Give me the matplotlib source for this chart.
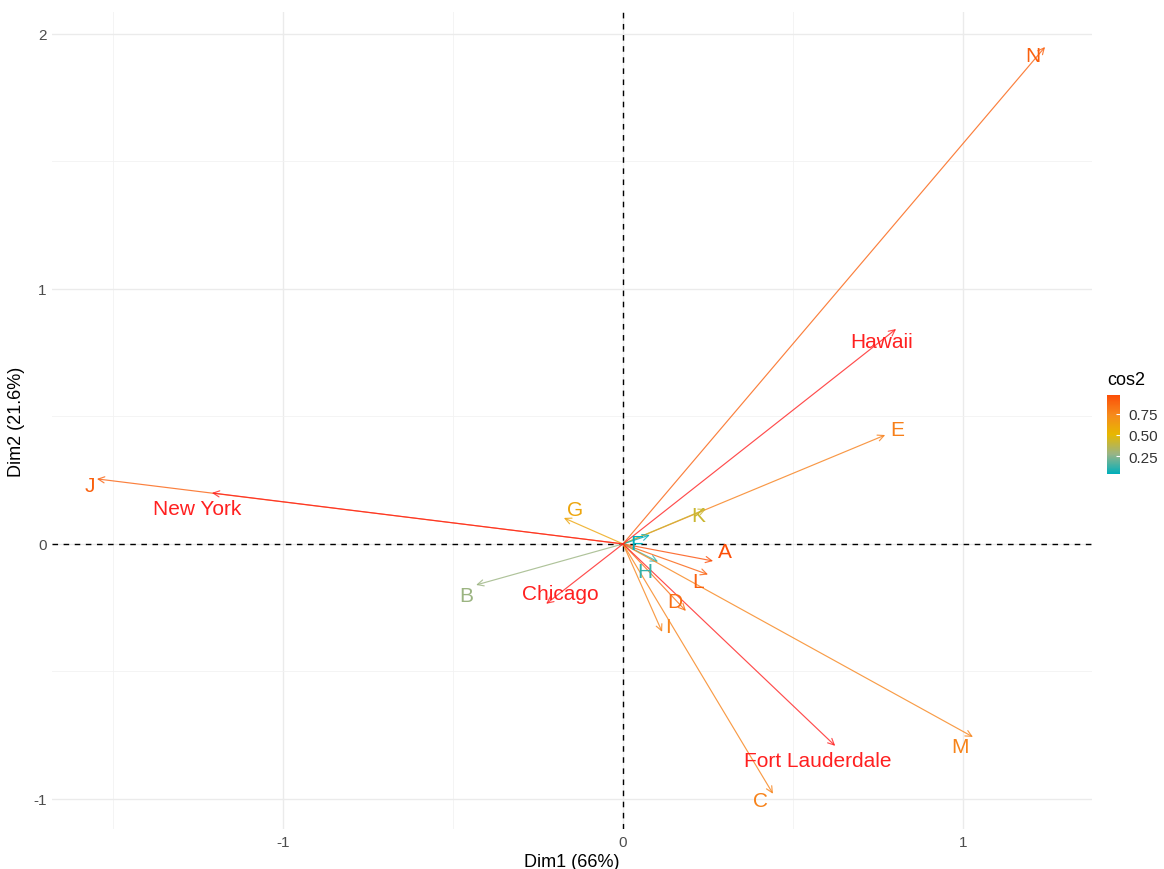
import matplotlib
matplotlib.use("Agg")
import matplotlib.pyplot as plt
from matplotlib.colors import LinearSegmentedColormap, Normalize
from matplotlib.colorbar import ColorbarBase

plt.rcParams["font.family"] = ["Liberation Sans", "DejaVu Sans"]

# active variables: PCA coordinates and cos2
var_names = ["N", "E", "K", "F", "A", "L", "H", "D", "I", "M", "C", "B", "G", "J"]
var_dim1 = [1.241, 0.771, 0.244, 0.079, 0.265, 0.250, 0.103, 0.185, 0.115, 1.029, 0.441, -0.432, -0.174, -1.547]
var_dim2 = [1.949, 0.427, 0.137, 0.035, -0.067, -0.120, -0.070, -0.263, -0.345, -0.757, -0.980, -0.161, 0.102, 0.255]
var_cos2 = [0.90, 0.78, 0.42, 0.04, 0.97, 0.90, 0.12, 0.84, 0.76, 0.76, 0.77, 0.28, 0.60, 0.90]

# supplementary variables
sup_names = ["Hawaii", "New York", "Chicago", "Fort Lauderdale"]
sup_dim1 = [0.803, -1.209, -0.226, 0.624]
sup_dim2 = [0.843, 0.200, -0.235, -0.792]

# label nudges in pixels (dx right, dy up)
var_nudge = {"N": (-12, -9), "E": (12, 6), "K": (-8, -7), "F": (-13, -9), "A": (12, 10),
             "L": (-10, -7), "H": (-13, -10), "D": (-11, 9), "I": (6, 5), "M": (-13, -10),
             "C": (-12, -7), "B": (-10, -11), "G": (11, 8), "J": (-7, -7)}
sup_nudge = {"Hawaii": (-14, -13), "New York": (-15, -16), "Chicago": (14, 10),
             "Fort Lauderdale": (-17, -15)}

# ggplot gradientn interpolates in Lab, so add the muted midpoints
cmap = LinearSegmentedColormap.from_list(
    "cos2", [(0.0, "#00AFBB"), (0.25, "#98B486"), (0.5, "#E7B800"),
             (0.75, "#F68A1C"), (1.0, "#FC4E07")])
norm = Normalize(vmin=min(var_cos2), vmax=max(var_cos2))
sup_color = "#FF2020"

fig = plt.figure(figsize=(11.64, 8.7), dpi=100)
ax = fig.add_axes([52 / 1164, 1 - 830 / 870, 1040 / 1164, 817 / 870])

ax.set_xlim(-1.679, 1.379)
ax.set_ylim(-1.118, 2.086)

# grid like theme_minimal
for v in [-1.5, -0.5, 0.5]:
    ax.axvline(v, color="#F2F2F2", lw=0.6, zorder=0)
for v in [-1, 0, 1]:
    ax.axvline(v, color="#EBEBEB", lw=1.0, zorder=0)
for v in [-0.5, 0.5, 1.5]:
    ax.axhline(v, color="#F2F2F2", lw=0.6, zorder=0)
for v in [-1, 0, 1, 2]:
    ax.axhline(v, color="#EBEBEB", lw=1.0, zorder=0)

ax.axhline(0, color="black", lw=1.0, ls=(0, (4, 4)), zorder=1)
ax.axvline(0, color="black", lw=1.0, ls=(0, (4, 4)), zorder=1)

arrow_style = "->,head_length=0.45,head_width=0.22"

for name, x, y, c2 in zip(var_names, var_dim1, var_dim2, var_cos2):
    col = cmap(norm(c2))
    ax.annotate("", xy=(x, y), xytext=(0, 0),
                arrowprops=dict(arrowstyle=arrow_style, color=col, lw=0.85, alpha=0.8,
                                shrinkA=0, shrinkB=0), zorder=2)
    dx, dy = var_nudge[name]
    ax.annotate(name, xy=(x, y), xytext=(dx, dy), textcoords="offset pixels",
                ha="center", va="center", color=col, fontsize=15, zorder=3)

for name, x, y in zip(sup_names, sup_dim1, sup_dim2):
    ax.annotate("", xy=(x, y), xytext=(0, 0),
                arrowprops=dict(arrowstyle=arrow_style, color=sup_color, lw=0.85, alpha=0.8,
                                shrinkA=0, shrinkB=0), zorder=2)
    dx, dy = sup_nudge[name]
    ax.annotate(name, xy=(x, y), xytext=(dx, dy), textcoords="offset pixels",
                ha="center", va="center", color=sup_color, fontsize=15, zorder=3)

ax.set_xticks([-1, 0, 1])
ax.set_xticklabels(["-1", "0", "1"])
ax.set_yticks([-1, 0, 1, 2])
ax.set_yticklabels(["-1", "0", "1", "2"])
ax.tick_params(length=0, labelsize=11, colors="#4D4D4D", pad=4)
for s in ax.spines.values():
    s.set_visible(False)

ax.set_xlabel("Dim1 (66%)", fontsize=13, color="black", labelpad=3)
ax.set_ylabel("Dim2 (21.6%)", fontsize=13, color="black", labelpad=6)

# colour bar legend
cax = fig.add_axes([1107 / 1164, 1 - 475 / 870, 13 / 1164, 79 / 870])
cb = ColorbarBase(cax, cmap=cmap, norm=norm, orientation="vertical")
cb.set_ticks([0.25, 0.50, 0.75])
cb.set_ticklabels(["0.25", "0.50", "0.75"])
cb.outline.set_visible(False)
cax.tick_params(length=3, width=0.8, color="white", direction="in", labelsize=11,
                labelcolor="#333333", pad=6)
cax.set_title("cos2", fontsize=13, loc="left", pad=8)

fig.savefig("out.png", dpi=100, facecolor="white")
